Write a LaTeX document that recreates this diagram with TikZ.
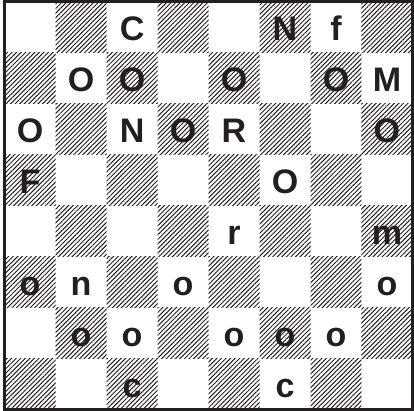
\documentclass[tikz,border=0pt]{standalone}
\usepackage{fontspec}
\setmainfont{Liberation Sans}
\usetikzlibrary{patterns.meta}
\definecolor{Ink}{HTML}{231F20}

\tikzset{
  hatched/.style={pattern={Lines[angle=45,distance=1.8pt,line width=0.55pt]},pattern color=Ink},
  letter/.style={anchor=base,inner sep=0pt,font=\fontsize{19}{19}\selectfont\bfseries,text=Ink},
}

\begin{document}
\begin{tikzpicture}
  \useasboundingbox (-0.09,-0.03) rectangle (8.03,8.03);
  % hatched squares
  \foreach \r in {0,...,7}
    \foreach \c in {0,...,7}{
      \pgfmathtruncatemacro\odd{mod(\r+\c,2)}
      \ifnum\odd=1 \fill[hatched] (\c,7-\r) rectangle ++(1,1); \fi
    }
  \draw[Ink,line width=1.7pt] (0,0) rectangle (8,8);
  % letters (column/row/text)
  \foreach \c/\r/\t in {2/0/C,5/0/N,6/0/f,
      1/1/O,2/1/O,4/1/O,6/1/O,7/1/M,
      0/2/O,2/2/N,3/2/O,4/2/R,7/2/O,
      0/3/F,5/3/O,
      4/4/r,7/4/m,
      0/5/o,1/5/n,3/5/o,7/5/o,
      1/6/o,2/6/o,4/6/o,5/6/o,6/6/o,
      2/7/c,5/7/c}
    \node[letter] (l-\c-\r) at (\c+0.5,7.23-\r) {\t};
\end{tikzpicture}
\end{document}
